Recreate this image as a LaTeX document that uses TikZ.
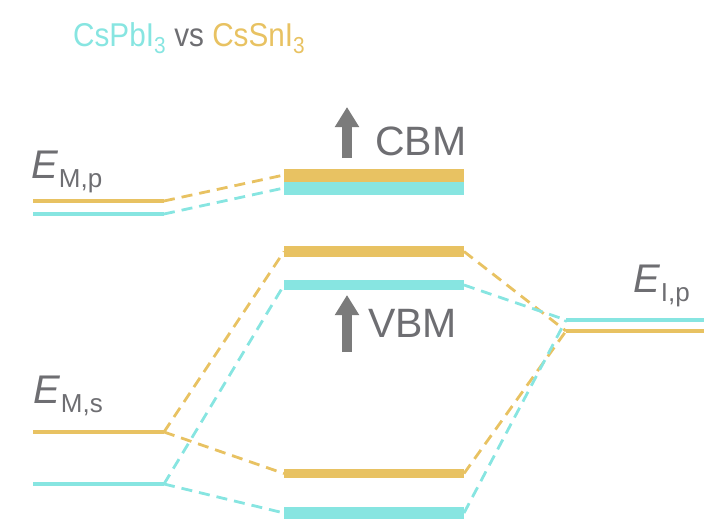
\documentclass[tikz,border=0pt]{standalone}
\usepackage{fontspec}
\setmainfont{Liberation Sans}
\usepackage{tikz}
\usepackage{xcolor}
\usetikzlibrary{arrows.meta, positioning}
\definecolor{snorange}{HTML}{E8C262}
\definecolor{pbcyan}{HTML}{87E5E1}
\definecolor{labelgray}{HTML}{6E6E72}
\definecolor{arrowgray}{HTML}{7B7B7B}
\tikzstyle{level} = [line width=4pt]
\tikzstyle{bandbar} = [line width=13pt]
\tikzstyle{mix} = [line width=2.8pt, dash pattern=on 11pt off 7pt]
\tikzstyle{uparrow} = [-{Triangle[width=23pt, length=20pt]}, line width=10pt, arrowgray]
\tikzstyle{lbl} = [inner sep=0pt, text=labelgray, font=\fontsize{40}{40}\selectfont]
\newcommand{\elev}[1]{{\itshape E}\kern1pt\raisebox{-9pt}{\fontsize{26}{26}\selectfont #1}}

\begin{document}
\begin{tikzpicture}[x=1pt, y=-1pt]
\useasboundingbox (0,0) rectangle (714,519);

\node[anchor=base west, inner sep=0pt, font=\fontsize{33}{33}\selectfont] (title) at (73,46)
  {\scalebox{0.9}[1]{\textcolor{pbcyan}{CsPbI\textsubscript{3}} \textcolor{labelgray}{vs} \textcolor{snorange}{CsSnI\textsubscript{3}}}};

% metal levels (left)
\draw[level, snorange] (33,201) coordinate (Mpo1) -- (164,201) coordinate (Mpo2);
\draw[level, pbcyan]   (33,214) coordinate (Mpc1) -- (164,214) coordinate (Mpc2);
\draw[level, snorange] (33,432) coordinate (Mso1) -- (164,432) coordinate (Mso2);
\draw[level, pbcyan]   (33,484) coordinate (Msc1) -- (164,484) coordinate (Msc2);

% iodine level (right)
\draw[level, pbcyan]   (566,320) coordinate (Ipc1) -- (704,320) coordinate (Ipc2);
\draw[level, snorange] (566,331) coordinate (Ipo1) -- (704,331) coordinate (Ipo2);

% bands (middle)
\draw[bandbar, snorange] (284,175) coordinate (cbo1) -- (464,175) coordinate (cbo2);
\draw[bandbar, pbcyan]   (284,188) coordinate (cbc1) -- (464,188) coordinate (cbc2);
\draw[bandbar, snorange, line width=11pt] (284,251.5) coordinate (vbo1) -- (464,251.5) coordinate (vbo2);
\draw[bandbar, pbcyan, line width=10pt]   (284,285) coordinate (vbc1) -- (464,285) coordinate (vbc2);
\draw[bandbar, snorange, line width=9.5pt] (284,473.5) coordinate (loo1) -- (464,473.5) coordinate (loo2);
\draw[bandbar, pbcyan, line width=12pt]    (284,513) coordinate (loc1) -- (464,513) coordinate (loc2);

% dashed mixing lines
\draw[mix, snorange] (Mpo2) -- (cbo1);
\draw[mix, pbcyan]   (Mpc2) -- (cbc1);
\draw[mix, snorange] (Mso2) -- (vbo1);
\draw[mix, snorange] (Mso2) -- (loo1);
\draw[mix, pbcyan]   (Msc2) -- (vbc1);
\draw[mix, pbcyan]   (Msc2) -- (loc1);
\draw[mix, snorange] (vbo2) -- (Ipo1);
\draw[mix, pbcyan]   (vbc2) -- (Ipc1);
\draw[mix, snorange] (loo2) -- (Ipo1);
\draw[mix, pbcyan]   (loc2) -- (Ipc1);

% labels
\node[lbl, anchor=base west] (EMp) at (31,178) {\elev{M,p}};
\node[lbl, anchor=base west] (EMs) at (33,403) {\elev{M,s}};
\node[lbl, anchor=base west] (EIp) at (633,292) {\elev{I,p}};

% band edge shifts
\coordinate (cbmfoot) at (347,158);
\coordinate (cbmtip) at (347,107);
\draw[uparrow] (cbmfoot) -- (cbmtip);
\node[lbl, font=\fontsize{41}{41}\selectfont, anchor=base west] (CBM) at (375,155) {CBM};
\coordinate (vbmfoot) at (347,352);
\coordinate (vbmtip) at (347,295);
\draw[uparrow] (vbmfoot) -- (vbmtip);
\node[lbl, font=\fontsize{41}{41}\selectfont, anchor=base west] (VBM) at (368,337) {VBM};
\end{tikzpicture}
\end{document}
